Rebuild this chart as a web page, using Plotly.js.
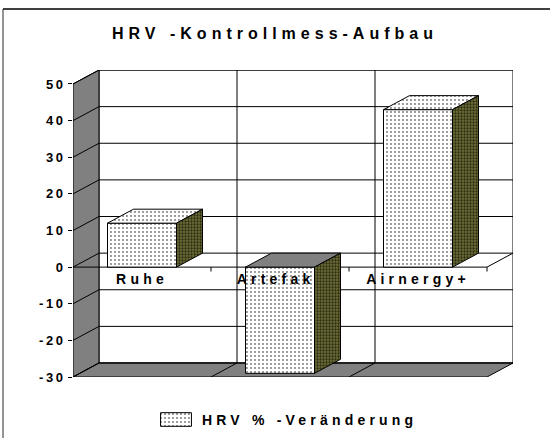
<!DOCTYPE html>
<html><head><meta charset="utf-8">
<script src="https://cdn.plot.ly/plotly-3.0.1.min.js"></script>
<style>
html,body{margin:0;padding:0;background:#fff}
#chart{width:550px;height:438px}
svg text{letter-spacing:4.2px;font-weight:bold !important}
svg text.gtitle{letter-spacing:5px}
svg g.ytick text{letter-spacing:2.5px}
</style></head><body><div id="chart"></div>
<script>
// ---- data ----
const categories = ['Ruhe', 'Artefakt', 'Airnergy+'];
const values = [12, -29, 43];
const seriesName = 'HRV % -Veränderung';
const chartTitle = 'HRV -Kontrollmess-Aufbau';
const tickValues = [-30, -20, -10, 0, 10, 20, 30, 40, 50];
const tickLabels = ['-30', '-20', '-10', '0', '10', '20', '30', '40', '50'];

// ---- geometry / style ----
const W = 550, H = 438;
const PL = 73, PR = 513, PT = 70, PB = 377;   // plot box in px
const DX = 0.1884;   // depth offset in x units
const DY = 3.82;     // depth offset in y units
const YMIN = -30, YMAX = 50;
const BW = 0.25;     // half bar width
const X0 = -0.5, X1 = categories.length - 0.5;
const FONT = '"Liberation Sans", Arial, sans-serif';
const GREY = '#808080';
const idx = categories.map((c, i) => i);

const shapes = [];
const ln = (x0, y0, x1, y1, extra) => Object.assign({type: 'line', xref: 'x', yref: 'y', x0, y0, x1, y1, layer: 'below', line: {color: '#000', width: 1}}, extra || {});
const poly = (pts, fill) => ({type: 'path', xref: 'x', yref: 'y', layer: 'below', fillcolor: fill, line: {color: '#000', width: 1},
  path: 'M' + pts.map(p => p[0] + ',' + p[1]).join('L') + 'Z'});

// back wall
shapes.push(poly([[X0 + DX, YMIN + DY], [X1 + DX, YMIN + DY], [X1 + DX, YMAX + DY], [X0 + DX, YMAX + DY]], '#fff'));
// side wall
shapes.push(poly([[X0, YMIN], [X0, YMAX], [X0 + DX, YMAX + DY], [X0 + DX, YMIN + DY]], GREY));
// floor
shapes.push(poly([[X0, YMIN], [X1, YMIN], [X1 + DX, YMIN + DY], [X0 + DX, YMIN + DY]], GREY));
// gridlines (back wall + side wall)
tickValues.forEach(v => {
  shapes.push(ln(X0 + DX, v + DY, X1 + DX, v + DY));
  shapes.push(ln(X0, v, X0 + DX, v + DY));
});
// category dividers on back wall and floor
for (let k = 1; k < categories.length; k++) {
  const xb = X0 + k;
  shapes.push(ln(xb + DX, YMIN + DY, xb + DX, YMAX + DY));
  shapes.push(ln(xb, YMIN, xb + DX, YMIN + DY));
}
// zero plane outline and category ticks
shapes.push(ln(X0, 0, X1, 0));
shapes.push(ln(X1, 0, X1 + DX, DY));
for (let k = 1; k <= categories.length; k++) shapes.push(ln(X0 + k, 0, X0 + k, -1.2));

// outer frame (paper coords)
const yTop = 1 - 9 / H;
shapes.push({type: 'line', xref: 'paper', yref: 'paper', x0: 3 / W, x1: 3 / W, y0: 0, y1: yTop, line: {color: '#707070', width: 1.5}});
shapes.push({type: 'line', xref: 'paper', yref: 'paper', x0: 3 / W, x1: 1, y0: yTop, y1: yTop, line: {color: '#404040', width: 2}});

// ---- 3D faces from values ----
function polys(list) {
  const xs = [], ys = [];
  list.forEach(p => { p.forEach(q => { xs.push(q[0]); ys.push(q[1]); }); xs.push(p[0][0]); ys.push(p[0][1]); xs.push(null); ys.push(null); });
  return {xs, ys};
}
const topPos = polys(idx.filter(i => values[i] >= 0).map(i => [
  [i - BW, values[i]], [i + BW, values[i]], [i + BW + DX, values[i] + DY], [i - BW + DX, values[i] + DY]]));
const topNeg = polys(idx.filter(i => values[i] < 0).map(i => [
  [i - BW, 0], [i + BW, 0], [i + BW + DX, DY], [i - BW + DX, DY]]));
const sides = polys(idx.map(i => [
  [i + BW, 0], [i + BW, values[i]], [i + BW + DX, values[i] + DY], [i + BW + DX, DY]]));

const dotPattern = {shape: '.', bgcolor: '#ffffff', fgcolor: '#000000', size: 4, solidity: 0.1};
const olivePattern = {shape: '.', bgcolor: '#6e6e38', fgcolor: '#2c2c12', size: 3, solidity: 0.45};
const LABEL_Y = -3.6;
const BOLD = {family: FONT, size: 14, color: '#000', weight: 'bold'};
const TICKF = {family: FONT, size: 13, color: '#000', weight: 'bold'};

const traces = [
  {type: 'bar', x: idx, y: values, base: 0, width: 2 * BW, name: seriesName,
   marker: {color: '#ffffff', line: {color: '#000', width: 1}, pattern: dotPattern}, hoverinfo: 'skip'},
  {type: 'scatter', mode: 'text', x: idx, y: idx.map(() => LABEL_Y), text: categories, textposition: 'middle center',
   cliponaxis: false, textfont: BOLD, hoverinfo: 'skip'},
  {type: 'scatter', mode: 'lines', x: topPos.xs, y: topPos.ys, fill: 'toself', fillcolor: '#fff', fillpattern: dotPattern,
   line: {color: '#000', width: 1}, hoverinfo: 'skip'},
  {type: 'scatter', mode: 'lines', x: topNeg.xs, y: topNeg.ys, fill: 'toself', fillcolor: GREY,
   line: {color: '#000', width: 1}, hoverinfo: 'skip'},
  {type: 'scatter', mode: 'lines', x: sides.xs, y: sides.ys, fill: 'toself', fillcolor: '#6e6e38', fillpattern: olivePattern,
   line: {color: '#000', width: 1}, hoverinfo: 'skip'},
  // legend swatch
  {type: 'scatter', mode: 'lines', xaxis: 'x2', yaxis: 'y2', x: [0, 1, 1, 0, 0], y: [0, 0, 1, 1, 0], fill: 'toself',
   fillcolor: '#fff', fillpattern: dotPattern, line: {color: '#000', width: 1}, hoverinfo: 'skip'}
];

const layout = {
  width: W, height: H,
  margin: {l: 0, r: 0, t: 0, b: 0},
  paper_bgcolor: '#fff', plot_bgcolor: 'rgba(0,0,0,0)',
  showlegend: false, hovermode: false,
  font: BOLD,
  title: {text: chartTitle, x: 0.5, xanchor: 'center', xref: 'paper', y: 1 - 33 / H, yanchor: 'middle', yref: 'paper',
          font: {family: FONT, size: 16, color: '#000', weight: 'bold'}},
  xaxis: {domain: [PL / W, PR / W], range: [X0, X1 + DX], anchor: 'y', showgrid: false, zeroline: false, showline: false,
          showticklabels: false, ticks: '', fixedrange: true},
  yaxis: {domain: [(H - PB) / H, (H - PT) / H], range: [YMIN, YMAX + DY], anchor: 'x', showgrid: false, zeroline: false,
          showline: false, tickmode: 'array', tickvals: tickValues, ticktext: tickLabels, ticks: 'outside', ticklen: 4,
          tickcolor: '#000', tickwidth: 1, automargin: false, fixedrange: true, tickfont: TICKF},
  xaxis2: {domain: [159 / W, 193 / W], range: [-0.05, 1.05], anchor: 'y2', visible: false, fixedrange: true},
  yaxis2: {domain: [(H - 427) / H, (H - 412) / H], range: [-0.05, 1.05], anchor: 'x2', visible: false, fixedrange: true},
  annotations: [{xref: 'paper', yref: 'paper', x: 200 / W, y: (H - 420) / H, xanchor: 'left', yanchor: 'middle',
                 showarrow: false, text: seriesName, font: BOLD}],
  shapes: shapes
};

Plotly.newPlot('chart', traces, layout, {staticPlot: true, displayModeBar: false});
</script></body></html>
